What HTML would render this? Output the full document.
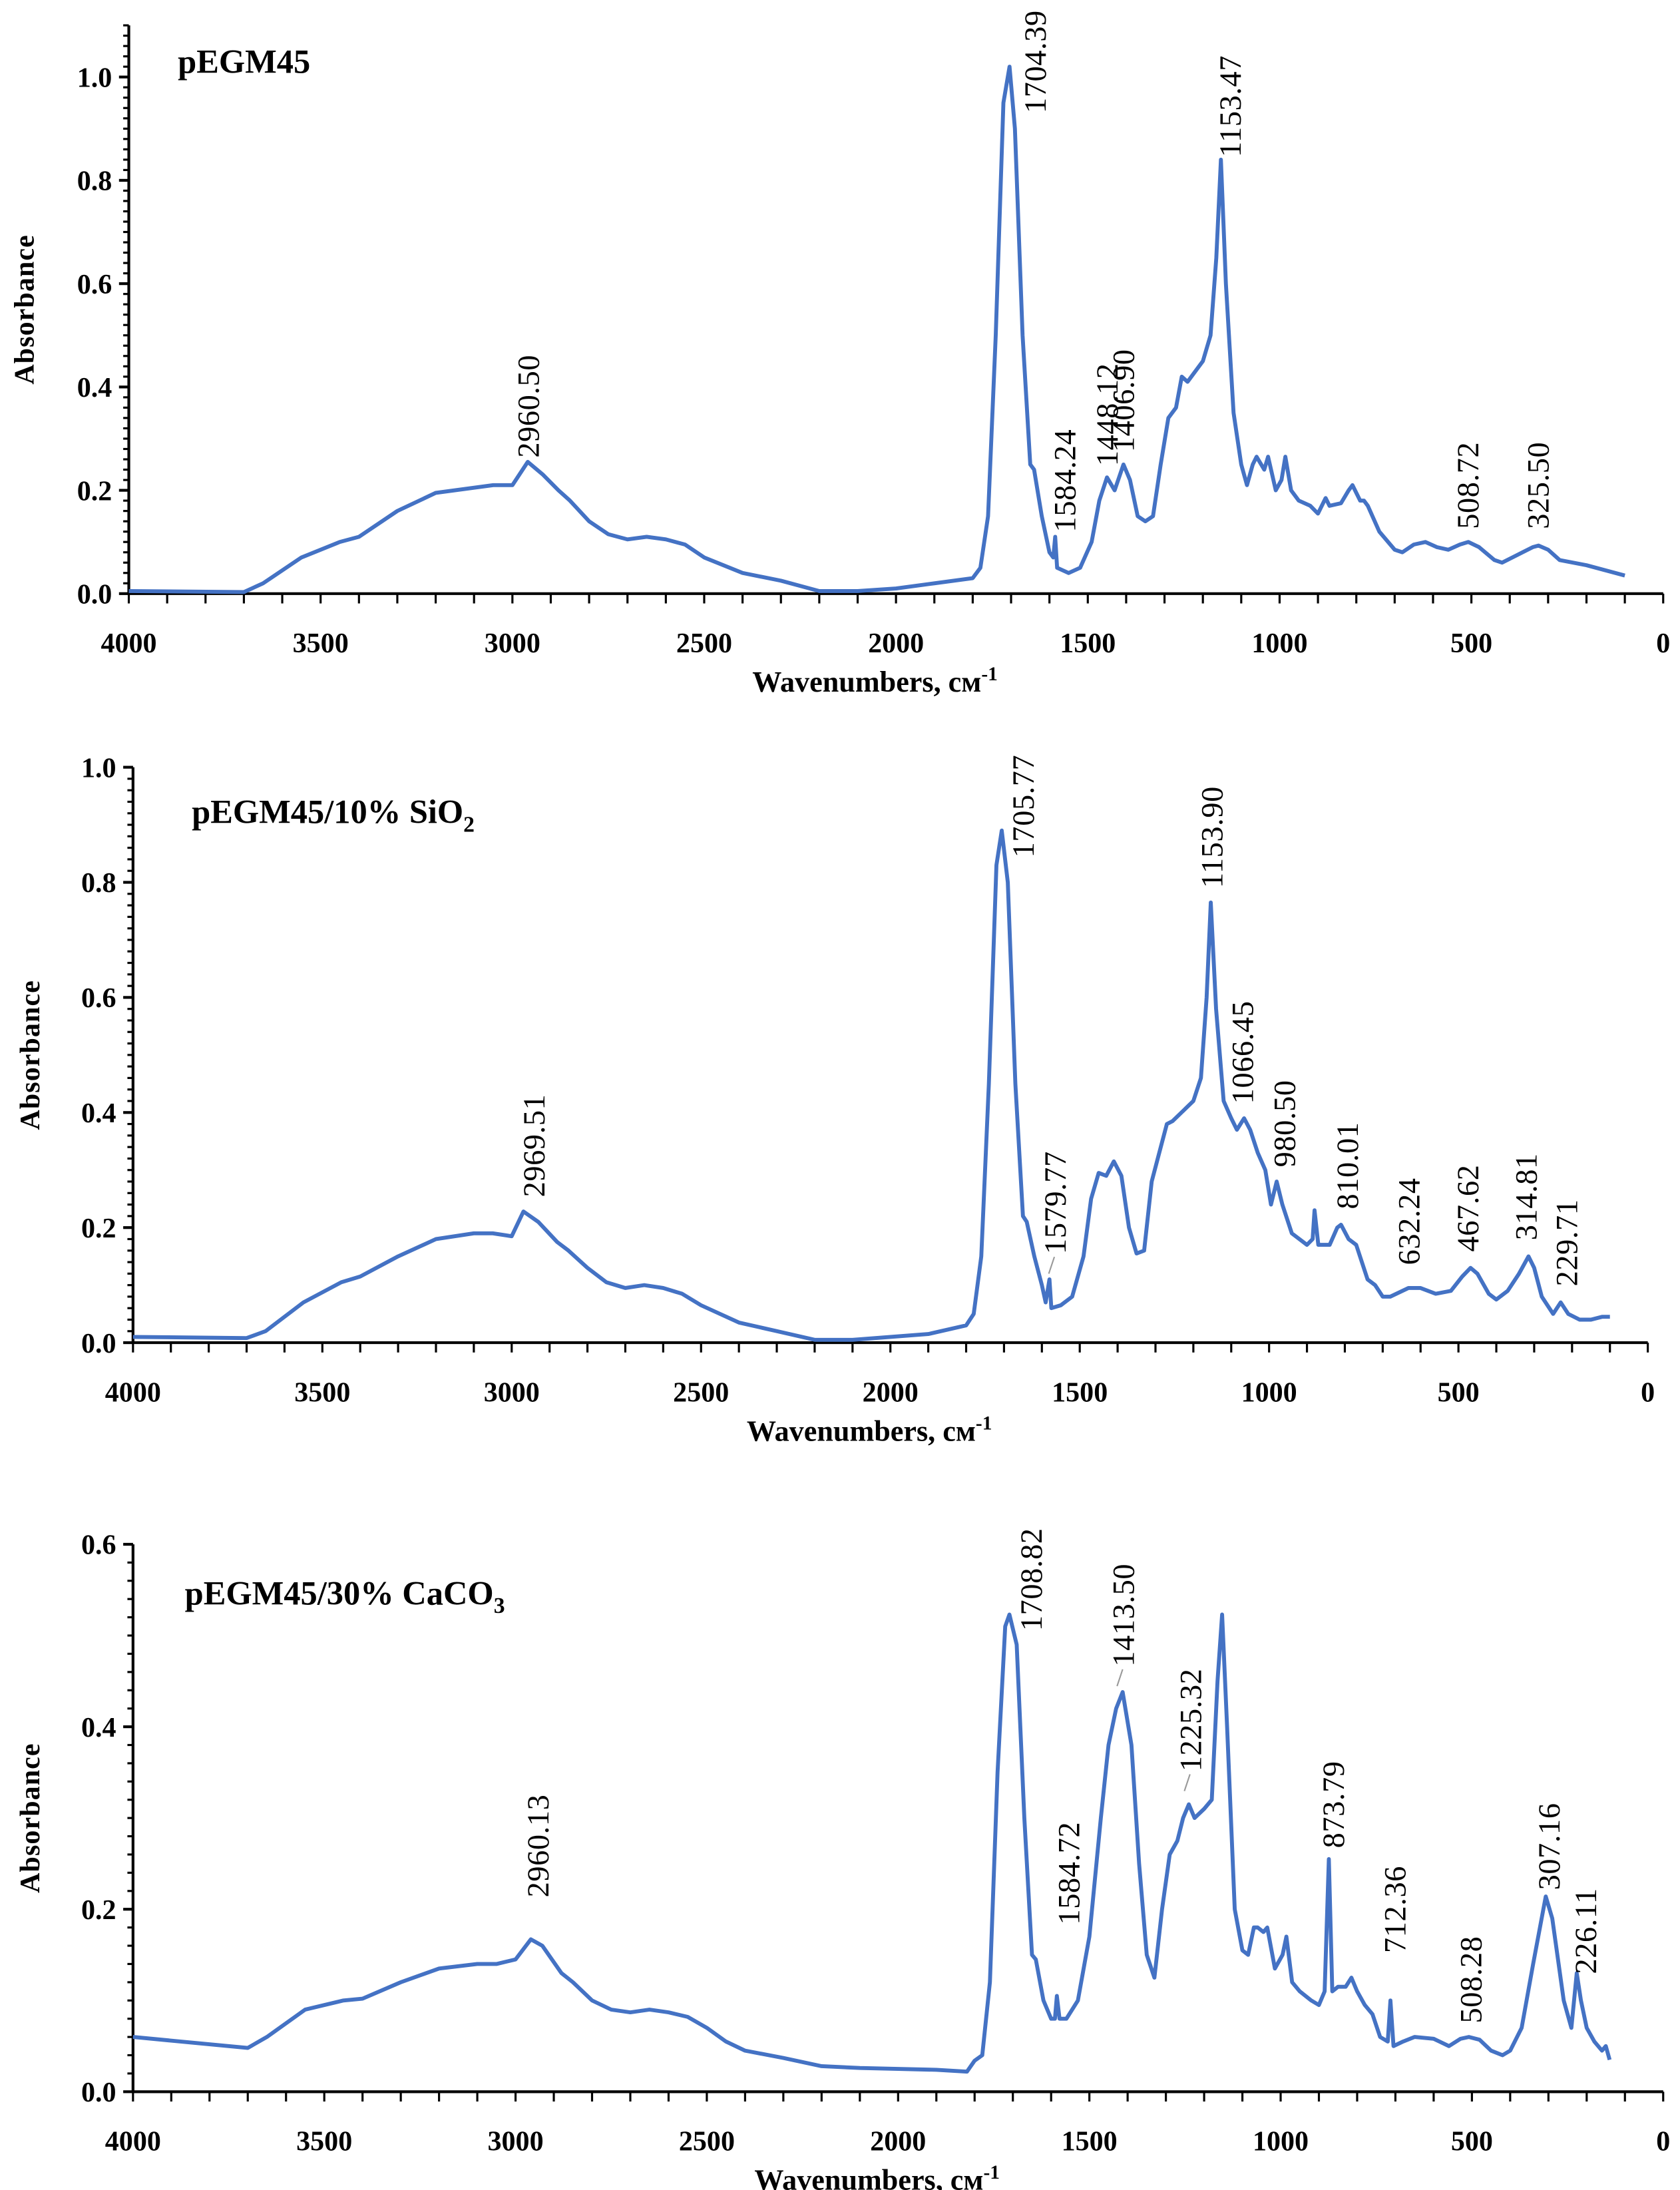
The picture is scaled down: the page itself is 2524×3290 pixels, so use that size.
<!DOCTYPE html>
<html><head><meta charset="utf-8"><style>
html,body{margin:0;padding:0;background:#fff}
svg{display:block}
text{font-family:"Liberation Serif",serif;fill:#000}
</style></head><body>
<svg id="root" width="2524" height="3290" viewBox="0 0 1200 1564.2" xmlns="http://www.w3.org/2000/svg"></svg>
<script>
// ===== Data =====
const wn1 = [4000,3700,3650,3550,3450,3400,3300,3200,3100,3050,3000,2960,2920,2880,2850,2800,2750,2700,2650,2600,2550,2500,2400,2300,2200,2100,2000,1900,1800,1780,1760,1740,1720,1704,1690,1670,1650,1640,1620,1600,1590,1585,1580,1550,1520,1490,1470,1450,1430,1407,1390,1370,1350,1330,1310,1290,1270,1255,1240,1200,1180,1165,1153,1140,1120,1100,1085,1070,1060,1040,1030,1010,995,985,970,950,920,900,880,870,840,820,810,790,780,770,740,700,680,650,620,590,560,530,508,480,440,420,380,340,325,300,270,200,150,100];
const ab1 = [0.005,0.003,0.02,0.07,0.1,0.11,0.16,0.195,0.205,0.21,0.21,0.255,0.23,0.2,0.18,0.14,0.115,0.105,0.11,0.105,0.095,0.07,0.04,0.025,0.005,0.005,0.01,0.02,0.03,0.05,0.15,0.5,0.95,1.02,0.9,0.5,0.25,0.24,0.15,0.08,0.07,0.11,0.05,0.04,0.05,0.1,0.18,0.225,0.2,0.25,0.22,0.15,0.14,0.15,0.25,0.34,0.36,0.42,0.41,0.45,0.5,0.65,0.84,0.6,0.35,0.25,0.21,0.25,0.265,0.24,0.265,0.2,0.22,0.265,0.2,0.18,0.17,0.155,0.185,0.17,0.175,0.2,0.21,0.18,0.18,0.17,0.12,0.085,0.08,0.095,0.1,0.09,0.085,0.095,0.1,0.09,0.065,0.06,0.075,0.09,0.093,0.085,0.065,0.055,0.045,0.035];
const wn2 = [4000,3700,3650,3550,3450,3400,3300,3200,3100,3050,3000,2969,2930,2880,2850,2800,2750,2700,2650,2600,2550,2500,2400,2300,2200,2100,2000,1900,1800,1780,1760,1740,1720,1706,1690,1670,1650,1640,1620,1600,1590,1580,1575,1550,1520,1490,1470,1450,1430,1410,1390,1370,1350,1330,1310,1290,1270,1255,1200,1180,1165,1154,1140,1120,1100,1085,1066,1050,1030,1010,995,980,965,940,900,885,880,870,840,820,810,790,770,740,720,710,700,680,632,600,560,520,490,468,450,420,400,370,340,315,300,280,250,230,210,180,150,120,100];
const ab2 = [0.01,0.008,0.02,0.07,0.105,0.115,0.15,0.18,0.19,0.19,0.185,0.228,0.21,0.175,0.16,0.13,0.105,0.095,0.1,0.095,0.085,0.065,0.035,0.02,0.005,0.005,0.01,0.015,0.03,0.05,0.15,0.45,0.83,0.89,0.8,0.45,0.22,0.21,0.15,0.1,0.07,0.11,0.06,0.065,0.08,0.15,0.25,0.295,0.29,0.315,0.29,0.2,0.155,0.16,0.28,0.33,0.38,0.385,0.42,0.46,0.6,0.765,0.58,0.42,0.39,0.37,0.39,0.37,0.33,0.3,0.24,0.28,0.24,0.19,0.17,0.18,0.23,0.17,0.17,0.2,0.205,0.18,0.17,0.11,0.1,0.09,0.08,0.08,0.095,0.095,0.085,0.09,0.115,0.13,0.12,0.085,0.075,0.09,0.12,0.15,0.13,0.08,0.05,0.07,0.05,0.04,0.04,0.045,0.045];
const wn3 = [4000,3700,3650,3550,3450,3400,3300,3200,3100,3050,3000,2960,2930,2880,2850,2800,2750,2700,2650,2600,2550,2500,2450,2400,2300,2200,2100,2000,1900,1820,1800,1780,1760,1740,1720,1709,1690,1670,1650,1640,1620,1600,1590,1585,1578,1560,1530,1500,1470,1450,1430,1413,1390,1370,1350,1330,1310,1290,1270,1255,1240,1225,1200,1180,1165,1153,1140,1120,1100,1085,1070,1060,1045,1035,1015,995,985,970,950,920,900,885,874,865,850,830,815,800,780,760,740,720,713,705,680,650,600,560,530,508,480,450,420,400,370,340,307,290,260,240,226,215,200,180,160,150,140];
const ab3 = [0.06,0.048,0.06,0.09,0.1,0.102,0.12,0.135,0.14,0.14,0.145,0.167,0.16,0.13,0.12,0.1,0.09,0.087,0.09,0.087,0.082,0.07,0.055,0.045,0.037,0.028,0.026,0.025,0.024,0.022,0.034,0.04,0.12,0.35,0.51,0.523,0.49,0.3,0.15,0.145,0.1,0.08,0.08,0.105,0.08,0.08,0.1,0.17,0.3,0.38,0.42,0.438,0.38,0.25,0.15,0.125,0.2,0.26,0.275,0.3,0.315,0.3,0.31,0.32,0.45,0.523,0.4,0.2,0.155,0.15,0.18,0.18,0.175,0.18,0.135,0.15,0.17,0.12,0.11,0.1,0.095,0.11,0.255,0.11,0.115,0.115,0.125,0.11,0.095,0.085,0.06,0.055,0.1,0.05,0.055,0.06,0.058,0.05,0.058,0.06,0.057,0.045,0.04,0.045,0.07,0.14,0.214,0.19,0.1,0.07,0.13,0.1,0.07,0.055,0.045,0.05,0.035];
const xTicks = [4000,3500,3000,2500,2000,1500,1000,500,0];
const yTicks1 = [0.0,0.2,0.4,0.6,0.8,1.0];
const yTicks3 = [0.0,0.2,0.4,0.6];
const peaks1 = ["2960.50","1704.39","1153.47","1584.24","1448.12","1406.90","508.72","325.50"];
const peakWn1 = [2960,1639,1131,1562,1452,1409,511,328];
const peakAb1 = [0.263,0.93,0.845,0.119,0.247,0.274,0.125,0.125];
const peaks2 = ["2969.51","1705.77","1153.90","1579.77","1066.45","980.50","810.01","632.24","467.62","314.81","229.71"];
const peakWn2 = [2943,1651,1153,1567,1072,961,795,633,477,323,216];
const peakAb2 = [0.253,0.843,0.79,0.154,0.415,0.305,0.232,0.135,0.158,0.178,0.098];
const peaks3 = ["2960.13","1708.82","1413.50","1225.32","1584.72","873.79","712.36","508.28","307.16","226.11"];
const peakWn3 = [2943,1654,1413,1237,1556,864,703,505,300,205];
const peakAb3 = [0.213,0.505,0.466,0.351,0.183,0.267,0.152,0.075,0.221,0.129];

const NS="http://www.w3.org/2000/svg";
const root=document.getElementById('root');
function mk(tag,attrs,parent){const e=document.createElementNS(NS,tag);for(const k in attrs)e.setAttribute(k,attrs[k]);(parent||root).appendChild(e);return e;}

function drawChart(o){
  const g=mk('g',{});
  
  
  const X=w=>o.x0+(4000-w)/4000*(o.x1-o.x0);
  const Y=v=>o.y0-v/o.ymaxTick*(o.y0-o.yTop);
  const yAxisTop=Y(o.axisMax);
  const ya=mk('line',{x1:o.x0,y1:yAxisTop,x2:o.x0,y2:o.y0,stroke:'#000','stroke-width':2},g);
  
  
  const xa=mk('line',{x1:o.x0,y1:o.y0,x2:o.x1,y2:o.y0,stroke:'#000','stroke-width':2},g);
  
  
  for(let w=4000;w>=0;w-=100){mk('line',{x1:X(w),y1:o.y0,x2:X(w),y2:o.y0+7,stroke:'#000','stroke-width':1.5},g);}
  for(let v=0;v<=o.axisMax+1e-6;v+=0.02){mk('line',{x1:o.x0-4,y1:Y(v),x2:o.x0,y2:Y(v),stroke:'#000','stroke-width':1.5},g);}
  xTicks.forEach(w=>{const t=mk('text',{x:X(w),y:o.y0+42,'text-anchor':'middle','font-size':20,'font-weight':'bold'},g);t.textContent=String(w);
    
    });
  o.yTicks.forEach(v=>{mk('line',{x1:o.x0-7,y1:Y(v),x2:o.x0,y2:Y(v),stroke:'#000','stroke-width':2},g);
    const t=mk('text',{x:o.x0-12,y:Y(v)+7,'text-anchor':'end','font-size':20,'font-weight':'bold'},g);t.textContent=v.toFixed(1);
    
    });
  const xt=mk('text',{x:(o.x0+o.x1)/2-15,y:o.y0+70,'text-anchor':'middle','font-size':21,'font-weight':'bold'},g);
  xt.innerHTML='Wavenumbers, см<tspan dy="-8" font-size="14">-1</tspan>';
  
  
  const ym=(yAxisTop+o.y0)/2;
  const yt=mk('text',{x:0,y:0,transform:`translate(${o.yLabelX},${ym}) rotate(-90)`,'text-anchor':'middle','font-size':20,'font-weight':'bold','letter-spacing':'0.5'},g);
  yt.textContent='Absorbance';
  
  
  const tt=mk('text',{x:o.titleX,y:o.titleY,'font-size':24,'font-weight':'bold'},g);
  tt.innerHTML=o.title;
  
  
  let d='';o.wn.forEach((w,i)=>{d+=(i?'L':'M')+X(w).toFixed(2)+' '+Y(o.ab[i]).toFixed(2);});
  const p=mk('path',{d:d,fill:'none',stroke:'#4472C4','stroke-width':2.8,'stroke-linejoin':'round'},g);
  
  
  o.peaks.forEach((s,i)=>{const px=X(o.pw[i]),py=Y(o.pa[i]);
    const t=mk('text',{x:0,y:0,transform:`translate(${px+8},${py}) rotate(-90)`,'font-size':22,'letter-spacing':'0.3'},g);
    t.textContent=s;
    
    });
  (o.leaders||[]).forEach(i=>{const px=X(o.pw[i]),py=Y(o.pa[i]);
    const l=mk('line',{x1:px,y1:py+2,x2:px-4,y2:py+14,stroke:'#999','stroke-width':1},g);
    
    });
}
drawChart({name:'chart-pegm45',x0:92,x1:1188,y0:424,yTop:55,ymaxTick:1.0,axisMax:1.1,yTicks:yTicks1,wn:wn1,ab:ab1,peaks:peaks1,pw:peakWn1,pa:peakAb1,title:'pEGM45',titleX:127,titleY:52,yLabelX:24});
drawChart({name:'chart-pegm45-sio2',x0:95,x1:1177,y0:959,yTop:548,ymaxTick:1.0,axisMax:1.0,yTicks:yTicks1,wn:wn2,ab:ab2,peaks:peaks2,pw:peakWn2,pa:peakAb2,leaders:[3],title:'pEGM45/10% SiO<tspan dy="6" font-size="16">2</tspan>',titleX:137,titleY:588,yLabelX:28});
drawChart({name:'chart-pegm45-caco3',x0:95,x1:1188,y0:1494,yTop:1103,ymaxTick:0.6,axisMax:0.6,yTicks:yTicks3,wn:wn3,ab:ab3,peaks:peaks3,pw:peakWn3,pa:peakAb3,leaders:[2,3],title:'pEGM45/30% CaCO<tspan dy="6" font-size="16">3</tspan>',titleX:132,titleY:1146,yLabelX:28});
</script>
</body></html>
